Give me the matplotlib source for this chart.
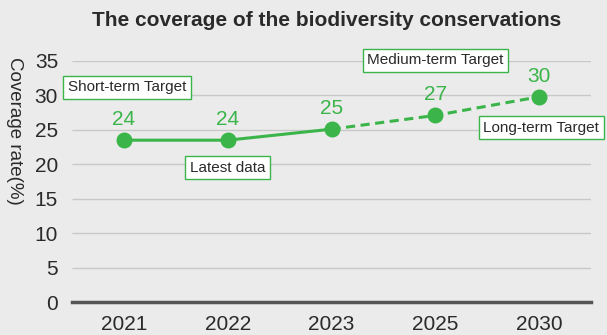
import numpy as np
import matplotlib.pyplot as plt

plt.rcParams['font.family'] = ['Liberation Sans', 'DejaVu Sans']

years = ["2021", "2022", "2023", "2025", "2030"]
coverage = [23.5, 23.5, 25.1, 27.1, 29.8]
value_labels = ["24", "24", "25", "27", "30"]
yticks = [0, 5, 10, 15, 20, 25, 30, 35]

# annotation boxes: (text, x index, y value)
notes = [("Short-term Target", 0.03, 31.2),
         ("Latest data", 1.0, 19.5),
         ("Medium-term Target", 3.0, 35.1),
         ("Long-term Target", 4.02, 25.3)]

GREEN = "#3bb54a"
BG = "#ebebeb"
TXT = "#2a2a2a"

fig = plt.figure(figsize=(6.07, 3.35), dpi=100, facecolor=BG)
ax = fig.add_axes([72 / 607, 1 - 302 / 335, 519 / 607, 241 / 335])
ax.set_facecolor(BG)

x = np.arange(len(years))
ax.plot(x[:3], coverage[:3], color=GREEN, lw=2.2, zorder=3)
ax.plot(x[2:], coverage[2:], color=GREEN, lw=2.2, ls=(0, (3, 1.8)), zorder=3)
ax.plot(x, coverage, "o", color=GREEN, ms=10.5, zorder=4)

for xi, v, lab in zip(x, coverage, value_labels):
    ax.annotate(lab, (xi, v), xytext=(0, 8), textcoords="offset points",
                ha="center", va="bottom", color=GREEN, fontsize=15)

for txt, nx, ny in notes:
    ax.text(nx, ny, txt, ha="center", va="center", fontsize=11, color=TXT,
            bbox=dict(boxstyle="square,pad=0.3", fc="white", ec=GREEN, lw=1),
            zorder=5, clip_on=False)

ax.set_xlim(-0.5, len(years) - 0.5)
ax.set_ylim(0, 35)
ax.set_yticks(yticks)
ax.set_xticks(x)
ax.set_xticklabels(years)
ax.tick_params(axis="both", length=0, labelsize=15, colors=TXT)
ax.tick_params(axis="x", pad=9)
ax.tick_params(axis="y", pad=10)
ax.hlines(yticks[1:], -0.5, len(years) - 0.5, color="#c8c8c8", lw=1, zorder=1)
for s in ["top", "right", "left"]:
    ax.spines[s].set_visible(False)
ax.spines["bottom"].set_color("#555555")
ax.spines["bottom"].set_linewidth(2.5)

ax.set_ylabel("Coverage rate(%)", rotation=-90, fontsize=13.5, color=TXT, va="center")
ax.yaxis.set_label_coords(-0.11, 0.71)

fig.text(0.538, 0.938, "The coverage of the biodiversity conservations", ha="center", va="center",
         fontsize=15, fontweight="bold", color=TXT)

fig.savefig("out.png", dpi=100, facecolor=BG)
